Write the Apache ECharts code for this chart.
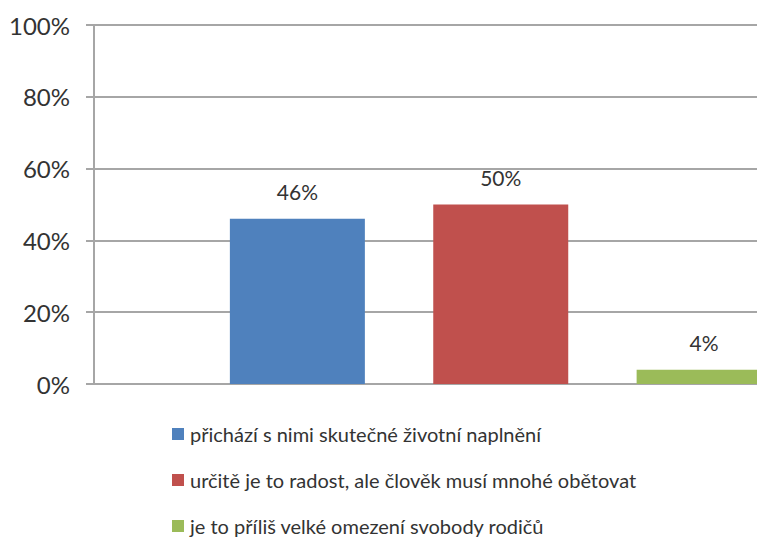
<!DOCTYPE html>
<html>
<head>
<meta charset="utf-8">
<script src="https://cdn.jsdelivr.net/npm/echarts@6/dist/echarts.min.js"></script>
<style>
  html, body { margin: 0; padding: 0; background: #fff; }
  #chart { width: 757px; height: 544px; }
</style>
</head>
<body>
<div id="chart"></div>
<script>
(function() {
  var seriesNames = [
    'přichází s nimi skutečné životní naplnění',
    'určitě je to radost, ale člověk musí mnohé obětovat',
    'je to příliš velké omezení svobody rodičů'
  ];
  // slot of each bar on the x axis (slot 0 is left empty, last bar runs off the edge)
  var slots = [1, 2, 3];
  var values = [46, 50, 4];
  var colors = ['#4f81bd', '#c0504d', '#9bbb59'];
  var yTicks = [0, 20, 40, 60, 80, 100];

  var grid = '#a6a6a6';
  var text = '#333';

  var chart = echarts.init(document.getElementById('chart'), null, { renderer: 'svg' });

  var series = seriesNames.map(function(name, i) {
    return {
      name: name,
      type: 'bar',
      barWidth: 135,
      barGap: '-100%',
      data: [[slots[i], values[i]]],
      itemStyle: { color: colors[i] },
      label: {
        show: true,
        position: 'top',
        distance: 17,
        formatter: function(p) { return p.value[1] + '%'; },
        fontFamily: 'Lato',
        fontSize: 21,
        color: text
      }
    };
  });

  chart.setOption({
    animation: false,
    color: colors,
    grid: { left: 94, right: 0, top: 25, bottom: 160 },
    xAxis: {
      type: 'value',
      min: 0,
      max: 3.26,
      axisLine: { show: true, onZero: false, lineStyle: { color: grid, width: 2 } },
      axisTick: { show: false },
      axisLabel: { show: false },
      splitLine: { show: false }
    },
    yAxis: {
      type: 'value',
      min: yTicks[0],
      max: yTicks[yTicks.length - 1],
      interval: 20,
      axisLine: { show: true, lineStyle: { color: grid, width: 2 } },
      axisTick: { show: true, length: 8, lineStyle: { color: grid, width: 2 } },
      axisLabel: {
        formatter: '{value}%',
        margin: 24,
        fontFamily: 'Lato',
        fontSize: 24,
        color: text
      },
      splitLine: { lineStyle: { color: grid, width: 2 } }
    },
    legend: {
      orient: 'vertical',
      left: 172,
      top: 423,
      height: 200,
      padding: 0,
      icon: 'rect',
      itemWidth: 12,
      itemHeight: 12,
      itemGap: 24,
      data: seriesNames,
      textStyle: {
        fontFamily: 'Lato',
        fontSize: 20,
        lineHeight: 22,
        color: text,
        padding: [0, 0, 0, 1]
      }
    },
    series: series
  });
})();
</script>
</body>
</html>
